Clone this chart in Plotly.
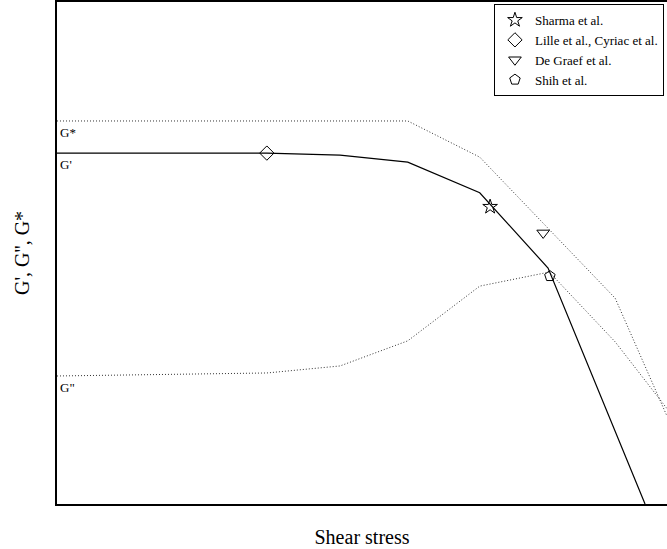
import plotly.graph_objects as go

# Schematic data (arbitrary units, x: shear stress 0-100, y: modulus 0-100)
x_gp = [0, 34.4, 46.4, 57.5, 69.3, 80.5, 96.4]
y_gp = [69.9, 69.9, 69.5, 68.1, 62.0, 47.0, 0]

x_gs = [0, 57.5, 69.3, 91.5, 100]
y_gs = [76.3, 76.3, 69.1, 41.0, 17.5]

x_gpp = [0, 34.4, 46.4, 57.5, 69.3, 80.7, 91.5, 100]
y_gpp = [25.5, 26.1, 27.5, 32.5, 43.4, 46.2, 32.3, 19.0]

marker_names = ["Sharma et al.", "Lille et al., Cyriac et al.", "De Graef et al.", "Shih et al."]
marker_symbols = ["star-open", "diamond-open", "triangle-down-open", "pentagon-open"]
marker_x = [71.0, 34.4, 79.7, 80.8]
marker_y = [59.2, 69.9, 54.0, 45.4]

curve_labels = ["G*", "G'", 'G"']
label_y = [y_gs[0], y_gp[0], y_gpp[0]]

FONT = "Liberation Serif"

fig = go.Figure()
fig.add_trace(go.Scatter(x=x_gs, y=y_gs, mode="lines", line=dict(color="#333", width=1, dash="1px,2px"),
                         showlegend=False, hoverinfo="skip"))
fig.add_trace(go.Scatter(x=x_gpp, y=y_gpp, mode="lines", line=dict(color="#333", width=1, dash="1px,2px"),
                         showlegend=False, hoverinfo="skip"))
fig.add_trace(go.Scatter(x=x_gp, y=y_gp, mode="lines", line=dict(color="black", width=1.2),
                         showlegend=False, hoverinfo="skip"))

for n, s, mx, my in zip(marker_names, marker_symbols, marker_x, marker_y):
    fig.add_trace(go.Scatter(x=[mx], y=[my], mode="markers", name=n,
                             marker=dict(symbol=s, size=11, color="black",
                                         line=dict(color="black", width=1))))

for lab, ly in zip(curve_labels, label_y):
    fig.add_annotation(x=0, y=ly, xref="x", yref="y", text=lab, showarrow=False,
                       xanchor="left", yanchor="top", xshift=1, yshift=-2,
                       font=dict(family=FONT, size=13, color="black"))

fig.update_layout(
    width=667, height=549,
    margin=dict(l=57, r=0, t=2, b=45),
    plot_bgcolor="white", paper_bgcolor="white",
    font=dict(family=FONT, color="black"),
    legend=dict(x=0.995, y=0.996, xanchor="right", yanchor="top",
                bordercolor="black", borderwidth=1, bgcolor="white",
                font=dict(family=FONT, size=13), tracegroupgap=0, itemwidth=30),
    xaxis=dict(range=[0, 100], showgrid=False, zeroline=False, showticklabels=False, ticks="",
               showline=True, linecolor="black", linewidth=2, mirror=True,
               title=dict(text="Shear stress", font=dict(family=FONT, size=20), standoff=25)),
    yaxis=dict(range=[0, 100], showgrid=False, zeroline=False, showticklabels=False, ticks="",
               showline=True, linecolor="black", linewidth=2, mirror=False,
               title=dict(text="G', G'', G*", font=dict(family=FONT, size=20), standoff=20)),
)

fig.write_html("out.html")
